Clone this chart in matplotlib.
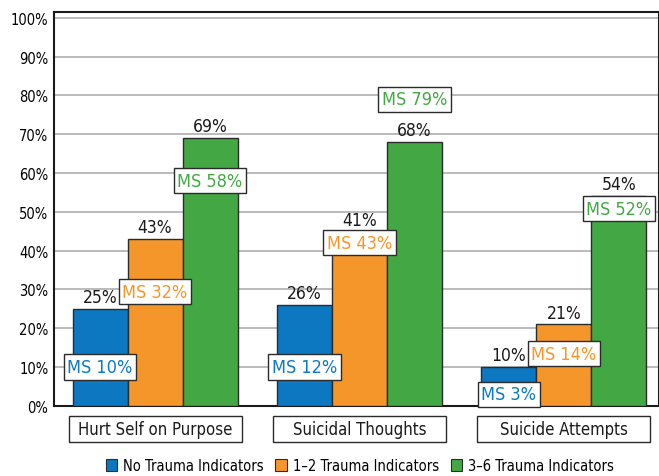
import matplotlib
matplotlib.use('Agg')
import matplotlib.pyplot as plt
from matplotlib.patches import Patch, Rectangle
import matplotlib.transforms as mtransforms
import numpy as np

categories = ['Hurt Self on Purpose', 'Suicidal Thoughts', 'Suicide Attempts']
series = ['No Trauma Indicators', '1\u20132 Trauma Indicators', '3\u20136 Trauma Indicators']
no_trauma = [25, 26, 10]
trauma_1_2 = [43, 41, 21]
trauma_3_6 = [69, 68, 54]
ms_no_trauma = [10, 12, 3]
ms_1_2 = [32, 43, 14]
ms_3_6 = [58, 79, 52]
yticks = [0, 10, 20, 30, 40, 50, 60, 70, 80, 90, 100]

colors = ['#0b78c1', '#f5962a', '#43a843']
# small nudges so the MS boxes don't sit on the value labels
ms_dy = [[0, -2, 0], [-2.6, -1, -0.6], [0, 0, -1.2]]
val_dy = [[0, 0, 0], [0, 11, 0], [0, 0, 0]]

plt.rcParams['font.family'] = ['Liberation Sans Narrow', 'DejaVu Sans']
plt.rcParams['font.stretch'] = 'condensed'

fig = plt.figure(figsize=(6.59, 4.77), dpi=100)
ax = fig.add_axes([0.082, 0.147, 0.918, 0.826])

x = np.arange(len(categories))
w = 0.269
vals = [no_trauma, trauma_1_2, trauma_3_6]
ms_vals = [ms_no_trauma, ms_1_2, ms_3_6]

for i, (v, c) in enumerate(zip(vals, colors)):
    xs = x + (i - 1) * w
    ax.bar(xs, v, width=w, color=c, edgecolor='#2b2b2b', linewidth=1, zorder=3)
    for j, (xi, vi) in enumerate(zip(xs, v)):
        ax.annotate('%d%%' % vi, (xi, vi), xytext=(0, 2 + val_dy[i][j]), textcoords='offset points',
                    ha='center', va='bottom', fontsize=12.5, color='#1a1a1a', zorder=5)

for i, (mv, c) in enumerate(zip(ms_vals, colors)):
    xs = x + (i - 1) * w
    for j, (xi, mi) in enumerate(zip(xs, mv)):
        ax.text(xi, mi + ms_dy[i][j], 'MS %d%%' % mi, ha='center', va='center', fontsize=13,
                color=c, zorder=6,
                bbox=dict(boxstyle='square,pad=0.2', fc='white', ec='#2b2b2b', lw=1))

ax.set_xlim(-0.494, 2.465)
ax.set_ylim(0, 101.5)
ax.set_yticks(yticks)
ax.set_yticklabels(['%d%%' % t for t in yticks], fontsize=10.5)
ax.set_xticks([])
ax.tick_params(axis='y', length=0, pad=4)
ax.yaxis.grid(True, color='#b5b5b5', linewidth=1.3, zorder=0)
ax.set_axisbelow(True)
for s in ax.spines.values():
    s.set_linewidth(1.5)
    s.set_color('#1a1a1a')

# category boxes under the axis
trans = mtransforms.blended_transform_factory(ax.transData, ax.transAxes)
bw = 0.846
for xi, cat in zip(x, categories):
    ax.add_patch(Rectangle((xi - bw / 2, -0.091), bw, 0.066, transform=trans,
                           fc='white', ec='#2b2b2b', lw=1, clip_on=False))
    ax.text(xi, -0.058, cat, transform=trans, ha='center', va='center', fontsize=12,
            color='#1a1a1a')

handles = [Patch(fc=c, ec='#2b2b2b', lw=0.8) for c in colors]
fig.legend(handles, series, loc='center', bbox_to_anchor=(0.546, 0.022), ncol=3,
           frameon=False, fontsize=10.5, handlelength=0.8, handleheight=0.8,
           handletextpad=0.4, columnspacing=0.8, borderpad=0)

fig.savefig('out.png', dpi=100)
